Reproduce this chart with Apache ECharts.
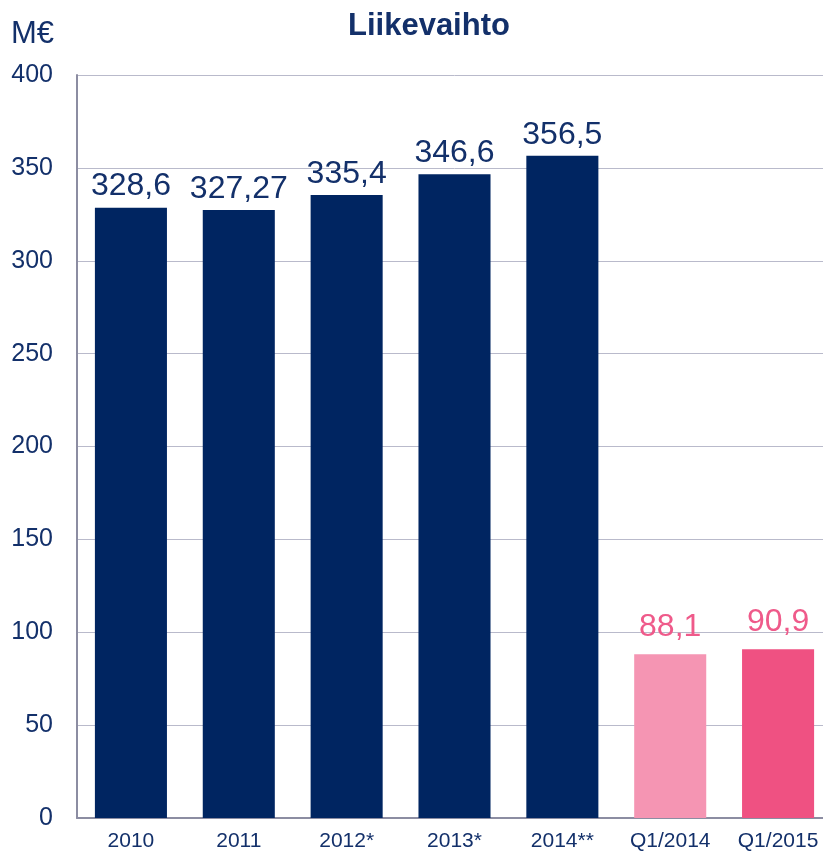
<!DOCTYPE html>
<html>
<head>
<meta charset="utf-8">
<script src="https://cdn.jsdelivr.net/npm/echarts@6/dist/echarts.min.js"></script>
<style>
  html, body { margin: 0; padding: 0; background: #fff; overflow: hidden; }
  #chart { width: 832px; height: 855px; }
</style>
</head>
<body>
<div id="chart"></div>
<script>
// Liikevaihto (revenue, M€) by year and by first quarter
const categories = ['2010', '2011', '2012*', '2013*', '2014**', 'Q1/2014', 'Q1/2015'];
const values = [328.6, 327.27, 335.4, 346.6, 356.5, 88.1, 90.9];
const valueLabels = ['328,6', '327,27', '335,4', '346,6', '356,5', '88,1', '90,9'];
const barColors = ['#002561', '#002561', '#002561', '#002561', '#002561', '#f595b3', '#ef5182'];
const labelColors = ['#13306a', '#13306a', '#13306a', '#13306a', '#13306a', '#ef5a8a', '#ef5a8a'];
const labelGaps = [5, 5, 5, 5, 5, 11, 11];

const navy = '#13306a';
const font = 'Liberation Sans, Arial, sans-serif';

const chart = echarts.init(document.getElementById('chart'), null, { renderer: 'canvas' });

// the plot runs slightly past the right edge of the 823px view
chart.setOption({
  animation: false,
  backgroundColor: '#ffffff',
  title: {
    text: 'Liikevaihto',
    left: 343,
    top: 6,
    textStyle: { fontFamily: font, fontSize: 31, fontWeight: 'bold', color: navy }
  },
  grid: { left: 77, right: 0, top: 75, bottom: 37, containLabel: false },
  xAxis: {
    type: 'category',
    data: categories,
    axisLine: { lineStyle: { color: '#8c8da2', width: 2 } },
    axisTick: { show: false },
    axisLabel: { fontFamily: font, fontSize: 21, color: navy, margin: 13 }
  },
  yAxis: {
    type: 'value',
    min: 0,
    max: 400,
    interval: 50,
    name: 'M€',
    nameLocation: 'end',
    nameGap: 25,
    nameTextStyle: { fontFamily: font, fontSize: 31, color: navy, align: 'left', padding: [0, 0, 0, -66] },
    axisLine: { show: true, lineStyle: { color: '#8c8da2', width: 2 } },
    axisTick: { show: false },
    splitLine: { lineStyle: { color: '#b9bacb', width: 1 } },
    axisLabel: { fontFamily: font, fontSize: 25, color: navy, margin: 24 }
  },
  series: [{
    type: 'bar',
    barWidth: '66.8%',
    data: values.map((v, i) => ({
      value: v,
      itemStyle: { color: barColors[i] },
      label: {
        show: true,
        position: 'top',
        distance: labelGaps[i],
        formatter: valueLabels[i],
        fontFamily: font,
        fontSize: 32,
        color: labelColors[i]
      }
    }))
  }]
});
</script>
</body>
</html>
